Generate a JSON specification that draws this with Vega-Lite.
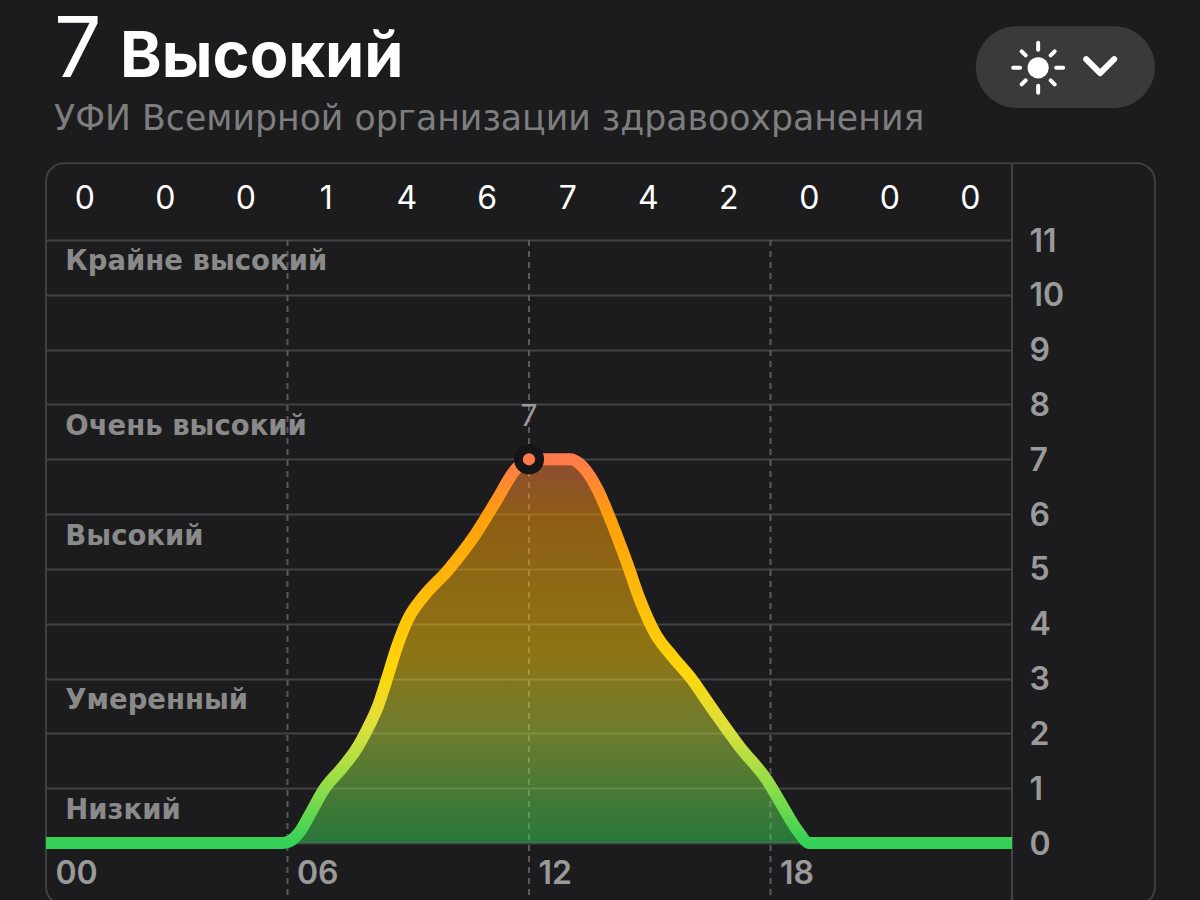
{
  "$schema": "https://vega.github.io/schema/vega-lite/v6.json",
  "width": 966,
  "height": 603,
  "autosize": "none",
  "padding": {"left": 46, "top": 240, "right": 188, "bottom": 57},
  "background": "#1c1c1e",
  "view": {"stroke": null},
  "config": {"font": "Inter", "text": {"font": "Inter"}},
  "datasets": {
    "uv": [
      {"hour": 0, "uv": 0}, {"hour": 5.85, "uv": 0}, {"hour": 6.05, "uv": 0.03}, {"hour": 6.3, "uv": 0.2}, {"hour": 6.6, "uv": 0.58},
      {"hour": 6.9, "uv": 0.97}, {"hour": 7.38, "uv": 1.39}, {"hour": 7.7, "uv": 1.7}, {"hour": 8.0, "uv": 2.1}, {"hour": 8.25, "uv": 2.5},
      {"hour": 8.46, "uv": 2.97}, {"hour": 8.72, "uv": 3.58}, {"hour": 8.99, "uv": 4.08}, {"hour": 9.37, "uv": 4.49},
      {"hour": 9.99, "uv": 4.98}, {"hour": 10.66, "uv": 5.62}, {"hour": 11.2, "uv": 6.26}, {"hour": 11.65, "uv": 6.8},
      {"hour": 12, "uv": 7}, {"hour": 12.45, "uv": 7}, {"hour": 13.02, "uv": 7}, {"hour": 13.34, "uv": 6.86},
      {"hour": 13.71, "uv": 6.44}, {"hour": 14.09, "uv": 5.78}, {"hour": 14.43, "uv": 5.12}, {"hour": 14.76, "uv": 4.43},
      {"hour": 15.13, "uv": 3.83}, {"hour": 15.58, "uv": 3.39}, {"hour": 16, "uv": 3.03}, {"hour": 16.57, "uv": 2.43},
      {"hour": 17.24, "uv": 1.75}, {"hour": 17.91, "uv": 1.15}, {"hour": 18.31, "uv": 0.66}, {"hour": 18.66, "uv": 0.24},
      {"hour": 18.98, "uv": 0}, {"hour": 24, "uv": 0}
    ]
  },
  "encoding": {
    "x": {
      "field": "hour", "type": "quantitative",
      "scale": {"domain": [0, 24], "nice": false},
      "axis": {"title": null, "values": [0, 6, 12, 18], "format": "02d", "grid": false, "domain": false, "ticks": false,
        "labelAlign": "left", "labelOffset": 9, "labelPadding": 15, "labelFontSize": 32, "labelFontWeight": 600, "labelColor": "#9a9a9a", "labelBound": false, "labelFlush": false}
    },
    "y": {
      "field": "uv", "type": "quantitative",
      "scale": {"domain": [0, 11], "nice": false},
      "axis": {"title": null, "orient": "right", "values": [0, 1, 2, 3, 4, 5, 6, 7, 8, 9, 10, 11], "format": "d", "grid": true, "gridColor": "#434345", "gridWidth": 2, "domain": false, "ticks": false,
        "labelOffset": 1, "labelPadding": 17, "labelFontSize": 32, "labelFontWeight": 600, "labelColor": "#9a9a9a", "labelBound": false, "labelFlush": false}
    }
  },
  "layer": [
    {
      "data": {"values": [{"hour": 0, "hour2": 27.55, "uv": 12.4, "uv2": -1.13}]},
      "mark": {"type": "rect", "fillOpacity": 0, "stroke": "#3f3f41", "strokeWidth": 2, "cornerRadius": 18},
      "encoding": {"x2": {"field": "hour2"}, "y2": {"field": "uv2"}}
    },
    {
      "data": {"values": [{"hour": 24, "uv": 12.4, "uv2": -1.13}]},
      "mark": {"type": "rule", "stroke": "#434345", "strokeWidth": 2},
      "encoding": {"y2": {"field": "uv2"}}
    },
    {
      "data": {"values": [{"hour": 6, "uv": 11, "uv2": -1.13}, {"hour": 12, "uv": 11, "uv2": -1.13}, {"hour": 18, "uv": 11, "uv2": -1.13}]},
      "mark": {"type": "rule", "stroke": "#5a5a5c", "strokeWidth": 2, "strokeDash": [6, 5]},
      "encoding": {"y2": {"field": "uv2"}}
    },
    {
      "data": {"name": "uv"},
      "mark": {
        "type": "area", "interpolate": "monotone", "opacity": 0.5,
        "fill": {"gradient": "linear", "x1": 0, "y1": 1, "x2": 0, "y2": 0, "stops": [
          {"offset": 0, "color": "#34d158"}, {"offset": 0.3, "color": "#c4dc3c"}, {"offset": 0.5, "color": "#ffcc0a"}, {"offset": 0.85, "color": "#ff9f0a"}, {"offset": 1, "color": "#ff7a4a"}
        ]}
      }
    },
    {
      "data": {"name": "uv"},
      "mark": {
        "type": "line", "interpolate": "monotone", "strokeWidth": 12, "strokeCap": "butt", "strokeJoin": "round",
        "stroke": {"gradient": "linear", "x1": 0, "y1": 1, "x2": 0, "y2": 0, "stops": [
          {"offset": 0, "color": "#34d158"}, {"offset": 0.14, "color": "#8cdd48"}, {"offset": 0.3, "color": "#dce03c"}, {"offset": 0.45, "color": "#ffd60a"}, {"offset": 0.85, "color": "#ff9f0a"}, {"offset": 1, "color": "#ff7a4a"}
        ]}
      }
    },
    {
      "data": {"values": [{"hour": 12, "uv": 7}]},
      "mark": {"type": "point", "shape": "circle", "filled": true, "fill": "#151517", "opacity": 1, "size": 908, "strokeWidth": 0},
      "encoding": {}
    },
    {
      "data": {"values": [{"hour": 12, "uv": 7}]},
      "mark": {"type": "point", "shape": "circle", "filled": true, "fill": "#ff7a4a", "opacity": 1, "size": 150},
      "encoding": {}
    },
    {
      "data": {"values": [{"hour": 12, "uv": 7.77, "label": "7"}]},
      "mark": {"type": "text", "fontSize": 30, "fontWeight": 400, "color": "#9a9a9a", "align": "center", "baseline": "middle"},
      "encoding": {"text": {"field": "label"}}
    },
    {
      "data": {"values": [
        {"hour": 1, "uv": 11.75, "label": "0"}, {"hour": 3, "uv": 11.75, "label": "0"}, {"hour": 5, "uv": 11.75, "label": "0"},
        {"hour": 7, "uv": 11.75, "label": "1"}, {"hour": 9, "uv": 11.75, "label": "4"}, {"hour": 11, "uv": 11.75, "label": "6"},
        {"hour": 13, "uv": 11.75, "label": "7"}, {"hour": 15, "uv": 11.75, "label": "4"}, {"hour": 17, "uv": 11.75, "label": "2"},
        {"hour": 19, "uv": 11.75, "label": "0"}, {"hour": 21, "uv": 11.75, "label": "0"}, {"hour": 23, "uv": 11.75, "label": "0"}
      ]},
      "mark": {"type": "text", "fontSize": 32, "fontWeight": 400, "color": "#ffffff", "align": "center", "baseline": "middle", "dx": -1.5},
      "encoding": {"text": {"field": "label"}}
    },
    {
      "data": {"values": [
        {"hour": 0.48, "uv": 10.6, "label": "Крайне высокий"},
        {"hour": 0.48, "uv": 7.59, "label": "Очень высокий"},
        {"hour": 0.48, "uv": 5.58, "label": "Высокий"},
        {"hour": 0.48, "uv": 2.59, "label": "Умеренный"},
        {"hour": 0.48, "uv": 0.58, "label": "Низкий"}
      ]},
      "mark": {"type": "text", "font": "DejaVu Sans", "fontSize": 27.5, "fontWeight": 700, "color": "#8a8a8a", "align": "left", "baseline": "middle"},
      "encoding": {"text": {"field": "label"}}
    },
    {
      "data": {"values": [{"hour": 0.2, "uv": 13.97, "label": "7"}]},
      "mark": {"type": "text", "fontSize": 84, "fontWeight": 400, "color": "#ffffff", "align": "left", "baseline": "alphabetic"},
      "encoding": {"text": {"field": "label"}}
    },
    {
      "data": {"values": [{"hour": 1.84, "uv": 13.97, "label": "Высокий"}]},
      "mark": {"type": "text", "fontSize": 63, "fontWeight": 700, "color": "#ffffff", "align": "left", "baseline": "alphabetic"},
      "encoding": {"text": {"field": "label"}}
    },
    {
      "data": {"values": [{"hour": 0.2, "uv": 13.0, "label": "УФИ Всемирной организации здравоохранения"}]},
      "mark": {"type": "text", "font": "DejaVu Sans", "fontSize": 34.7, "fontWeight": 400, "color": "#7e7e7e", "align": "left", "baseline": "alphabetic"},
      "encoding": {"text": {"field": "label"}}
    },
    {
      "data": {"values": [{"hour": 23.1, "hour2": 27.55, "uv": 14.9, "uv2": 13.41}]},
      "mark": {"type": "rect", "fill": "#3a3a3c", "cornerRadius": 41},
      "encoding": {"x2": {"field": "hour2"}, "y2": {"field": "uv2"}}
    },
    {
      "data": {"values": [{"hour": 24.65, "uv": 14.14}]},
      "mark": {"type": "point", "shape": "circle", "filled": true, "fill": "#ffffff", "opacity": 1, "size": 450},
      "encoding": {}
    },
    {
      "data": {"values": [{"hour": 24.65, "uv": 14.14}]},
      "mark": {"type": "point", "filled": false, "fill": null, "stroke": "#ffffff", "strokeWidth": 4, "strokeCap": "round", "opacity": 1, "size": 2500,
        "shape": "M0,-1L0,-0.72M0,1L0,0.72M-1,0L-0.72,0M1,0L0.72,0M-0.66,-0.66L-0.5,-0.5M0.66,-0.66L0.5,-0.5M-0.66,0.66L-0.5,0.5M0.66,0.66L0.5,0.5"},
      "encoding": {}
    },
    {
      "data": {"values": [{"hour": 26.19, "uv": 14.17}]},
      "mark": {"type": "point", "filled": false, "fill": null, "stroke": "#ffffff", "strokeWidth": 6, "strokeCap": "round", "strokeJoin": "round", "opacity": 1, "size": 784,
        "shape": "M-1,-0.5L0,0.5L1,-0.5"},
      "encoding": {}
    }
  ]
}
